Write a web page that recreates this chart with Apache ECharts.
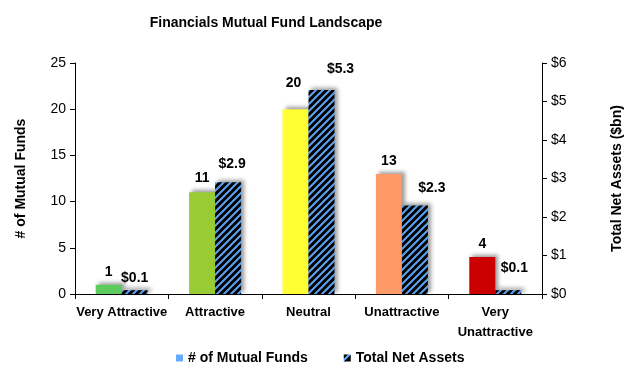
<!DOCTYPE html>
<html><head><meta charset="utf-8">
<script src="https://cdn.jsdelivr.net/npm/echarts@6/dist/echarts.min.js"></script>
<style>html,body{margin:0;padding:0;background:#fff}#c{width:630px;height:368px}</style>
</head><body><div id="c"></div>
<script>
var categories = ['Very Attractive', 'Attractive', 'Neutral', 'Unattractive', 'Very\nUnattractive'];
var fundCounts = [1, 11, 20, 13, 4];
var netAssets = [0.1, 2.9, 5.3, 2.3, 0.1];
var fundColors = ['#5CCD5C', '#99CC33', '#FFFF33', '#FF9966', '#CC0000'];
var leftTicks = [0, 5, 10, 15, 20, 25];
var rightTicks = [0, 1, 2, 3, 4, 5, 6];
// manual label nudges (as placed in the original)
var fundLabelShift = [[0, 0], [0, -1], [-2, -13], [0, 0], [0, 0]];
var assetLabelShift = [[0, 1], [4, -5], [19, -8], [17, -4], [6, -9]];

var FONT = 'Liberation Sans, Arial, sans-serif';
var BLUE = '#5AA2F2';

function hatch() {
  var s = 7, c = document.createElement('canvas');
  c.width = s; c.height = s;
  var g = c.getContext('2d');
  g.fillStyle = '#000'; g.fillRect(0, 0, s, s);
  g.strokeStyle = BLUE; g.lineWidth = 2;
  g.beginPath();
  g.moveTo(-2, s + 2); g.lineTo(s + 2, -2);
  g.moveTo(-2, 2); g.lineTo(2, -2);
  g.moveTo(s - 2, s + 2); g.lineTo(s + 2, s - 2);
  g.stroke();
  return c;
}

var chart = echarts.init(document.getElementById('c'), null, {renderer: 'canvas'});
var shadow = {shadowColor: 'rgba(0,0,0,0.4)', shadowBlur: 4, shadowOffsetX: 3, shadowOffsetY: -2};
var labelStyle = {show: true, position: 'top', distance: 6, fontFamily: FONT, fontWeight: 'bold', fontSize: 14, color: '#000'};
var noShadow = {shadowBlur: 0, shadowOffsetX: 0, shadowOffsetY: 0};

chart.setOption({
  animation: false,
  title: {text: 'Financials Mutual Fund Landscape', left: 261, textAlign: 'center', top: 11,
    textStyle: {fontFamily: FONT, fontWeight: 'bold', fontSize: 14, color: '#000'}},
  grid: {left: 75, right: 88, top: 63, bottom: 74, containLabel: false, outerBoundsMode: 'none'},
  legend: {
    left: 171, top: 346, itemWidth: 7, itemHeight: 7, itemGap: 36,
    textStyle: {fontFamily: FONT, fontWeight: 'bold', fontSize: 14, color: '#000'},
    data: [
      {name: '# of Mutual Funds', icon: 'rect', itemStyle: Object.assign({color: '#66AAFF'}, noShadow)},
      {name: 'Total Net Assets', icon: 'rect', itemStyle: Object.assign({
        color: {type: 'linear', x: 0, y: 0, x2: 1, y2: 1, colorStops: [
          {offset: 0, color: '#000'}, {offset: 0.3, color: '#000'}, {offset: 0.3, color: BLUE},
          {offset: 0.55, color: BLUE}, {offset: 0.55, color: '#000'}, {offset: 1, color: '#000'}]}}, noShadow)}
    ]
  },
  xAxis: {
    type: 'category', data: categories,
    axisLine: {lineStyle: {color: '#000'}},
    axisTick: {show: true, length: 5, lineStyle: {color: '#000'}},
    axisLabel: {interval: 0, margin: 8, fontFamily: FONT, fontWeight: 'bold', fontSize: 13, color: '#000', lineHeight: 20}
  },
  yAxis: [
    {type: 'value', min: leftTicks[0], max: leftTicks[leftTicks.length - 1], interval: 5,
      name: '# of Mutual Funds', nameLocation: 'middle', nameGap: 47, nameRotate: 90,
      nameTextStyle: {fontFamily: FONT, fontWeight: 'bold', fontSize: 14, color: '#000'},
      axisLine: {show: true, lineStyle: {color: '#000'}},
      axisTick: {show: true, length: 5, lineStyle: {color: '#000'}},
      splitLine: {show: false},
      axisLabel: {fontFamily: FONT, fontSize: 14, color: '#000', margin: 9}},
    {type: 'value', min: rightTicks[0], max: rightTicks[rightTicks.length - 1], interval: 1, position: 'right',
      name: 'Total Net Assets ($bn)', nameLocation: 'middle', nameGap: 68, nameRotate: 90,
      nameTextStyle: {fontFamily: FONT, fontWeight: 'bold', fontSize: 14, color: '#000'},
      axisLine: {show: true, lineStyle: {color: '#000'}},
      axisTick: {show: true, length: 5, lineStyle: {color: '#000'}},
      splitLine: {show: false},
      axisLabel: {fontFamily: FONT, fontSize: 14, color: '#000', margin: 9, formatter: function (v) { return '$' + v; }}}
  ],
  series: [
    {name: '# of Mutual Funds', type: 'bar', yAxisIndex: 0, barWidth: 26, barGap: '0%',
      itemStyle: Object.assign({color: '#66AAFF'}, shadow),
      label: Object.assign({}, labelStyle),
      data: fundCounts.map(function (v, i) {
        return {value: v, itemStyle: {color: fundColors[i]}, label: {offset: fundLabelShift[i]}};
      })},
    {name: 'Total Net Assets', type: 'bar', yAxisIndex: 1, barWidth: 26, barGap: '0%',
      itemStyle: Object.assign({color: {image: hatch(), repeat: 'repeat'}}, shadow),
      label: Object.assign({}, labelStyle, {formatter: function (p) { return '$' + p.value; }}),
      data: netAssets.map(function (v, i) {
        return {value: v, label: {offset: assetLabelShift[i]}};
      })}
  ]
});
</script></body></html>
